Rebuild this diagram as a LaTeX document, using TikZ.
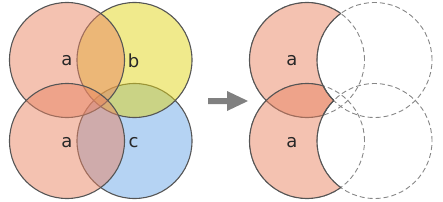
\documentclass[tikz,border=0pt]{standalone}
\usepackage{fontspec}
\setmainfont{DejaVu Sans}

\definecolor{setpink}{RGB}{233,133,100}
\definecolor{setyellow}{RGB}{225,213,25}
\definecolor{setblue}{RGB}{107,167,231}
\definecolor{ringgray}{RGB}{85,85,85}
\definecolor{dashgray}{RGB}{135,135,135}
\definecolor{arrowgray}{RGB}{128,128,128}
\definecolor{labelgray}{RGB}{40,40,40}

\begin{document}
\begin{tikzpicture}[
  x=1pt, y=1pt,
  venn/.style={draw=ringgray, line width=1.1pt, fill opacity=0.5},
  rim/.style={draw=ringgray, line width=1.1pt},
  ghost/.style={draw=dashgray, line width=0.9pt, dash pattern=on 5pt off 3pt},
  setlabel/.style={font=\fontsize{18}{18}\selectfont, text=labelgray}
]
\def\rad{57.5}
\useasboundingbox (0,0) rectangle (443,201);

% left: the four sets
\draw[venn, fill=setblue] (134.5,60) circle (\rad);
\draw[venn, fill=setyellow] (134.5,141) circle (\rad);
\draw[venn, fill=setpink] (67,141) circle (\rad);
\draw[venn, fill=setpink] (67,60) circle (\rad);
\node[setlabel] (la1) at (67,140) {a};
\node[setlabel] (lb) at (133.5,140) {b};
\node[setlabel] (la2) at (67,58) {a};
\node[setlabel] (lc) at (133.5,58) {c};

% arrow
\fill[arrowgray] (208,97) -- (227,97) -- (227,90) -- (248,100)
  -- (227,110) -- (227,103) -- (208,103) -- cycle;

% right: a without b and c
\foreach \p in {(307,141),(374.5,141),(307,60),(374.5,60)}
  \draw[ghost] \p circle (\rad);
\begin{scope}[even odd rule]
  \clip (240,0) rectangle (443,201) (374.5,141) circle (\rad);
  \clip (240,0) rectangle (443,201) (374.5,60) circle (\rad);
  \draw[venn, fill=setpink] (307,141) circle (\rad);
  \draw[venn, fill=setpink] (307,60) circle (\rad);
\end{scope}
\begin{scope}[even odd rule]
  \clip (240,0) rectangle (443,201) (374.5,60) circle (\rad);
  \begin{scope}[nonzero rule]
    \clip (307,141) circle (\rad);
    \draw[rim] (374.5,141) circle (\rad);
  \end{scope}
  \begin{scope}[nonzero rule]
    \clip (307,60) circle (\rad);
    \draw[rim] (374.5,141) circle (\rad);
  \end{scope}
\end{scope}
\begin{scope}[even odd rule]
  \clip (240,0) rectangle (443,201) (374.5,141) circle (\rad);
  \begin{scope}[nonzero rule]
    \clip (307,141) circle (\rad);
    \draw[rim] (374.5,60) circle (\rad);
  \end{scope}
  \begin{scope}[nonzero rule]
    \clip (307,60) circle (\rad);
    \draw[rim] (374.5,60) circle (\rad);
  \end{scope}
\end{scope}
\node[setlabel] (ra1) at (292,140) {a};
\node[setlabel] (ra2) at (292,58) {a};
\end{tikzpicture}
\end{document}
